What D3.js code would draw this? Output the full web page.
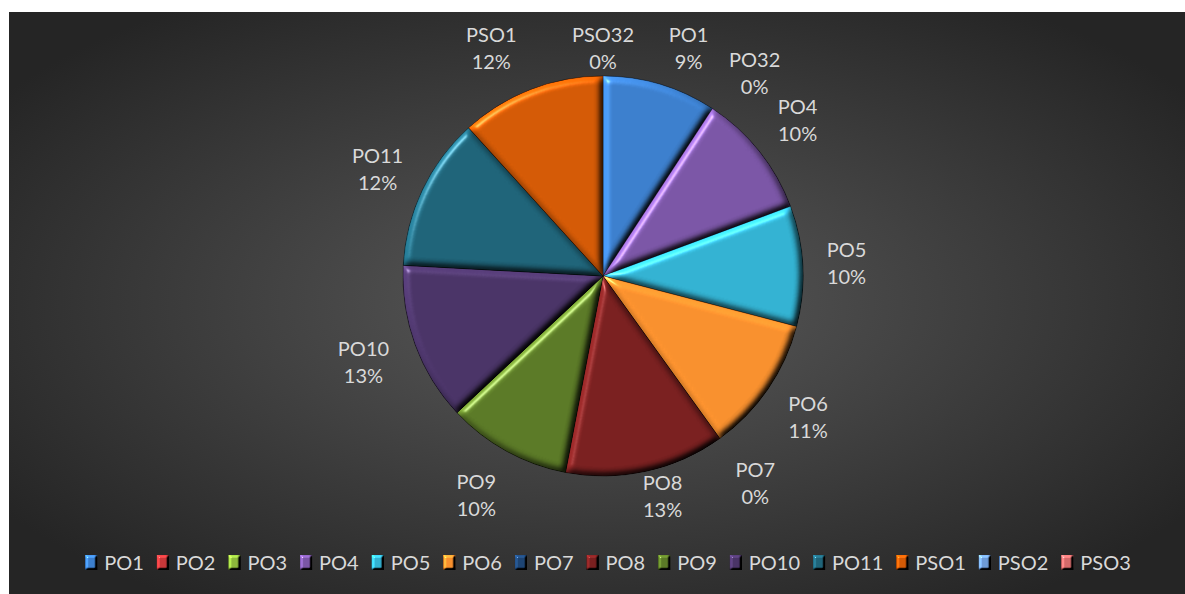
<!DOCTYPE html>
<html>
<head>
    <meta charset="UTF-8" />
    <title>PO / PSO pie</title>
    <script src="https://d3js.org/d3.v7.min.js"></script>
    <style>
        body { margin: 0; background: #fff; }
        text { font-family: Lato, "Open Sans", sans-serif; fill: #d9d9d9; }
    </style>
</head>
<body>
<div id="main"></div>
<script type="text/javascript">

// chart data
var categories = ['PO1', 'PO2', 'PO3', 'PO4', 'PO5', 'PO6', 'PO7', 'PO8', 'PO9', 'PO10', 'PO11', 'PSO1', 'PSO2', 'PSO3']
var values = [9.2, 0, 0, 10.1, 9.7, 11.0, 0, 12.9, 10.0, 12.8, 12.4, 11.7, 0, 0]
var colors = ['#3c7fcd', '#c8383a', '#8db83c', '#7b56a6', '#33b2d2', '#f8902e', '#1d4473',
              '#7a2020', '#5b7a27', '#4a3467', '#1f6479', '#d45a06', '#6e9bd6', '#d46a6a']

var width = 1185
var height = 594
var fontSize = 20

var svg = d3.select("#main").append("svg")
    .attr("width", width)
    .attr("height", height)

var defs = svg.append("defs")

var bg = defs.append("radialGradient").attr("id", "bg")
    .attr("cx", "0.5").attr("cy", "0.5").attr("r", "0.62")
bg.append("stop").attr("offset", "0").attr("stop-color", "#5a5a5a")
bg.append("stop").attr("offset", "1").attr("stop-color", "#252525")

// bevel look of the slices (light from top-left)
function bevel(id, blur, scale, elev, shine) {
    var f = defs.append("filter").attr("id", id)
        .attr("color-interpolation-filters", "sRGB")
        .attr("x", "-5%").attr("y", "-5%").attr("width", "110%").attr("height", "110%")
    f.append("feGaussianBlur").attr("in", "SourceAlpha").attr("stdDeviation", blur).attr("result", "blur")
    f.append("feDiffuseLighting").attr("in", "blur").attr("surfaceScale", scale)
        .attr("diffuseConstant", 1).attr("lighting-color", "#fff").attr("result", "diff")
        .append("feDistantLight").attr("azimuth", 225).attr("elevation", elev)
    f.append("feComposite").attr("in", "SourceGraphic").attr("in2", "diff")
        .attr("operator", "arithmetic").attr("k1", 1 / Math.sin(elev * Math.PI / 180)).attr("k2", 0).attr("k3", 0).attr("k4", 0)
        .attr("result", "lit")
    f.append("feSpecularLighting").attr("in", "blur").attr("surfaceScale", scale)
        .attr("specularConstant", 1).attr("specularExponent", 60).attr("lighting-color", "#fff")
        .attr("result", "spec")
        .append("feDistantLight").attr("azimuth", 225).attr("elevation", elev)
    f.append("feComposite").attr("in", "spec").attr("in2", "SourceAlpha").attr("operator", "in").attr("result", "specIn")
    f.append("feComposite").attr("in", "lit").attr("in2", "specIn")
        .attr("operator", "arithmetic").attr("k1", 0).attr("k2", 1).attr("k3", shine).attr("k4", 0)
}
bevel("bevel", 3.5, 4, 45, 0.35)
bevel("bevelSmall", 1.2, 3, 40, 0.45)

// plot area
svg.append("rect")
    .attr("x", 9).attr("y", 12)
    .attr("width", width - 9).attr("height", height - 12)
    .attr("fill", "url(#bg)")

var cx = 603, cy = 276, radius = 200

var data = categories.map(function(c, i) { return { name: c, value: values[i], color: colors[i] } })
var total = d3.sum(values)

var pie = d3.pie().sort(null).value(function(d) { return d.value })
var arcs = pie(data)
var arc = d3.arc().innerRadius(0).outerRadius(radius)

var g = svg.append("g").attr("transform", "translate(" + cx + "," + cy + ")")

g.selectAll("path")
    .data(arcs.filter(function(d) { return d.data.value > 0 }))
    .enter().append("path")
    .attr("d", arc)
    .attr("fill", function(d) { return d.data.color })
    .attr("stroke", "rgba(0,0,0,0.4)")
    .attr("stroke-width", 0.8)
    .attr("filter", "url(#bevel)")

// zero slices sitting on the same angle overlap like in the source ("PO32", "PSO32")
var groups = []
arcs.forEach(function(d) {
    var last = groups[groups.length - 1]
    if (d.data.value === 0 && last && last.zero && Math.abs(last.angle - d.startAngle) < 1e-6) {
        last.items.push(d)
    } else {
        groups.push({ zero: d.data.value === 0, angle: d.startAngle, items: [d] })
    }
})
groups.forEach(function(gr) {
    var first = gr.items[0]
    gr.mid = (first.startAngle + first.endAngle) / 2
    gr.pct = Math.round(first.data.value / total * 100) + '%'
    if (gr.items.length === 1) {
        gr.label = first.data.name
    } else {
        var names = gr.items.map(function(d) { return d.data.name }).reverse()
        var prefix = names[0].replace(/\d+$/, '')
        gr.label = prefix + names.map(function(n) { return n.slice(prefix.length) }).join('')
    }
})

// small shifts that the source applied to avoid crowding at the top and bottom
var nudge = { 'PO1': [16, 0], 'PSO1': [-22, 0], 'PO32': [15, 6], 'PO4': [4, 0], 'PO6': [4, 0],
              'PO7': [10, 4], 'PO8': [7, 0], 'PO9': [-9, 0], 'PO10': [-5, 0] }

var labelR = 224
var lab = g.selectAll("g.lab")
    .data(groups)
    .enter().append("g").attr("class", "lab")

lab.append("text").attr("class", "n")
    .attr("text-anchor", "middle").attr("font-size", fontSize)
    .attr("y", -6)
    .text(function(d) { return d.label })
lab.append("text").attr("class", "p")
    .attr("text-anchor", "middle").attr("font-size", fontSize)
    .attr("y", 21)
    .text(function(d) { return d.pct })

lab.attr("transform", function(d) {
    var node = this
    var w = d3.max(d3.select(node).selectAll("text").nodes(), function(t) { return t.getComputedTextLength() })
    var h = 52
    var s = Math.sin(d.mid), c = -Math.cos(d.mid)
    var x = (labelR + w / 2) * s
    var y = labelR * c + h / 2 * c
    y = Math.max(48 - cy, Math.min(496 - cy, y))
    var n = nudge[d.label] || [0, 0]
    return "translate(" + (x + n[0]) + "," + (y + n[1]) + ")"
})

// legend
var legend = svg.append("g")
var lx = 0
var items = legend.selectAll("g")
    .data(data)
    .enter().append("g")

items.append("rect")
    .attr("width", 12).attr("height", 15)
    .attr("y", -15)
    .attr("fill", function(d) { return d.color })
    .attr("filter", "url(#bevelSmall)")
items.append("text")
    .attr("x", 19)
    .attr("font-size", fontSize)
    .text(function(d) { return d.name })

items.each(function() {
    var t = d3.select(this).select("text").node()
    d3.select(this).attr("transform", "translate(" + lx + ",0)")
    lx += 19 + t.getComputedTextLength() + 13
})
lx -= 13
legend.attr("transform", "translate(" + (608 - lx / 2) + ",570)")

</script>
</body>
</html>
